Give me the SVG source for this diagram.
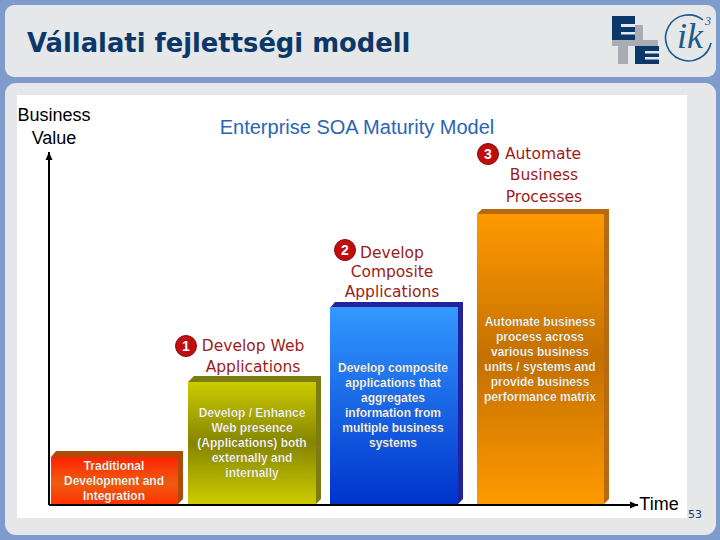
<svg xmlns="http://www.w3.org/2000/svg" width="720" height="540" viewBox="0 0 720 540">
<defs>
<linearGradient id="gRed" x1="0" y1="0" x2="0" y2="1"><stop offset="0" stop-color="#ff2200"/><stop offset="0.55" stop-color="#ee5c10"/><stop offset="1" stop-color="#ff3300"/></linearGradient>
<linearGradient id="gYel" x1="0" y1="0" x2="0" y2="1"><stop offset="0" stop-color="#cccc00"/><stop offset="0.5" stop-color="#858500"/><stop offset="1" stop-color="#cccc00"/></linearGradient>
<linearGradient id="gBlue" x1="0" y1="0" x2="0" y2="1"><stop offset="0" stop-color="#3399ff"/><stop offset="1" stop-color="#0033cc"/></linearGradient>
<linearGradient id="gOra" x1="0" y1="0" x2="0" y2="1"><stop offset="0" stop-color="#ff9900"/><stop offset="0.5" stop-color="#c47000"/><stop offset="1" stop-color="#ff9900"/></linearGradient>
<marker id="arr" markerUnits="userSpaceOnUse" markerWidth="10" markerHeight="10" refX="9" refY="5" orient="auto"><path d="M1 1.5L9 5L1 8.5Z" fill="#000"/></marker>
</defs>
<style>
text{font-family:"Liberation Sans",Arial,sans-serif}
.b{font-size:12px;fill:#fff;text-anchor:middle;font-weight:bold;stroke:#6a5a20;stroke-width:.2px}
.h{fill:#9b1c20;text-anchor:middle;font-family:"DejaVu Sans",sans-serif;font-size:15.5px}
.a{font-size:18px;fill:#000;text-anchor:middle}
.c{fill:#c00d0d;stroke:#8a0a0a;stroke-width:1}
.n{font-size:14px;fill:#fff;text-anchor:middle;font-weight:bold}
.navy{fill:#0b3868}.gray{fill:#a9acb2}.bg{fill:#e6e7e9}
</style>
<rect width="720" height="540" fill="#7f9bcb"/>
<rect x="5" y="5" width="711" height="72" rx="9" fill="#e6e7e9"/>
<rect x="5" y="83" width="711" height="452" rx="11" fill="#e6e7e9"/>
<text x="27" y="52" style="font-family:'DejaVu Sans',sans-serif;font-size:25.8px;font-weight:bold;fill:#0b3868">Vállalati fejlettségi modell</text>
<g id="logo">
<rect class="navy" x="612" y="16" width="23" height="24"/>
<rect class="bg" x="621" y="24" width="14" height="3"/><rect class="bg" x="621" y="32" width="14" height="2.5"/>
<rect class="gray" x="635" y="25" width="8" height="15"/>
<rect class="gray" x="612" y="40" width="46" height="6"/>
<rect class="gray" x="618" y="46" width="10" height="18"/>
<rect class="navy" x="635" y="46" width="24" height="18"/>
<rect class="bg" x="645" y="51" width="14" height="2.5"/><rect class="bg" x="645" y="57" width="14" height="2.5"/>
<path d="M711 43A23 23 0 1 1 703 20" fill="none" stroke="#1b5a8c" stroke-width="1.6"/>
<text x="690" y="48" text-anchor="middle" style="font-family:'Liberation Serif',serif;font-style:italic;font-size:36px;fill:#1b5a8c">ik</text>
<text x="708" y="25" text-anchor="middle" style="font-family:'Liberation Serif',serif;font-style:italic;font-size:12px;fill:#1b5a8c">3</text>
</g>
<rect x="17" y="95" width="670" height="423" fill="#fff"/>
<text x="357" y="134" text-anchor="middle" style="font-size:20px;fill:#2c64b4">Enterprise SOA Maturity Model</text>
<text class="a" x="54" y="121">Business</text>
<text class="a" x="54" y="144">Value</text>
<g id="bar0">
<path d="M51 457L56 451H183V499L178 504H51Z" fill="#b04a08"/>
<rect x="51" y="457" width="127" height="47" fill="url(#gRed)"/>
<text class="b" x="114" y="470">Traditional</text>
<text class="b" x="114" y="485">Development and</text>
<text class="b" x="114" y="500">Integration</text>
</g>
<g id="bar1">
<path d="M188 382L194 376H321V499L316 504H188Z" fill="#7c7c10"/>
<rect x="188" y="382" width="128" height="122" fill="url(#gYel)"/>
<text class="b" x="252" y="417">Develop / Enhance</text>
<text class="b" x="252" y="432">Web presence</text>
<text class="b" x="252" y="447">(Applications) both</text>
<text class="b" x="252" y="462">externally and</text>
<text class="b" x="252" y="477">internally</text>
<circle class="c" cx="186" cy="346" r="10.5"/><text class="n" x="186" y="351">1</text>
<text class="h" x="253" y="351">Develop Web</text>
<text class="h" x="253" y="372">Applications</text>
</g>
<g id="bar2">
<path d="M330 308L335 302H463V499L458 504H330Z" fill="#22229a"/>
<rect x="330" y="307" width="128" height="197" fill="url(#gBlue)"/>
<text class="b" x="393" y="372">Develop composite</text>
<text class="b" x="393" y="387">applications that</text>
<text class="b" x="393" y="402">aggregates</text>
<text class="b" x="393" y="417">information from</text>
<text class="b" x="393" y="432">multiple business</text>
<text class="b" x="393" y="447">systems</text>
<circle class="c" cx="345" cy="250" r="10.5"/><text class="n" x="345" y="255">2</text>
<text class="h" x="392" y="258">Develop</text>
<text class="h" x="392" y="277">Composite</text>
<text class="h" x="392" y="297">Applications</text>
</g>
<g id="bar3">
<path d="M477 214L482 209H609V499L604 504H477Z" fill="#b86a10"/>
<rect x="477" y="214" width="127" height="290" fill="url(#gOra)"/>
<text class="b" x="540" y="326">Automate business</text>
<text class="b" x="540" y="341">process across</text>
<text class="b" x="540" y="356">various business</text>
<text class="b" x="540" y="371">units / systems and</text>
<text class="b" x="540" y="386">provide business</text>
<text class="b" x="540" y="401">performance matrix</text>
<circle class="c" cx="488" cy="154" r="10.5"/><text class="n" x="488" y="159">3</text>
<text class="h" x="543" y="159">Automate</text>
<text class="h" x="544" y="180">Business</text>
<text class="h" x="544" y="202">Processes</text>
</g>
<g id="connectors" fill="none" stroke="#000" stroke-width="2">
<path d="M49 505V152" marker-end="url(#arr)"/>
<path d="M49 505H638" marker-end="url(#arr)"/>
</g>
<text class="a" x="659" y="510">Time</text>
<text x="695" y="518" text-anchor="middle" style="font-family:'DejaVu Sans',sans-serif;font-size:11px;fill:#1b3a66">53</text>
</svg>
